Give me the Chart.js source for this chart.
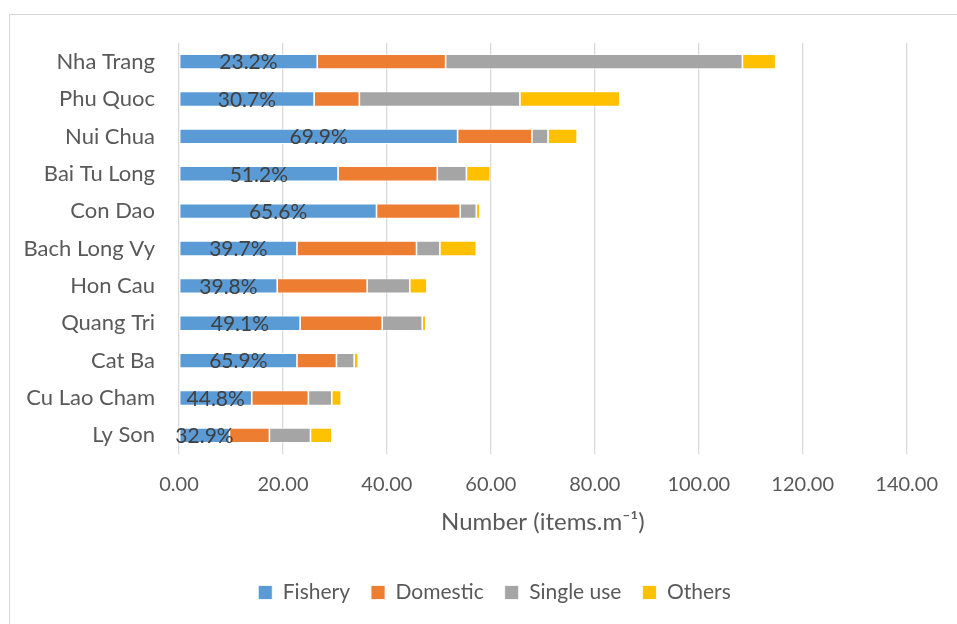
<!DOCTYPE html>
<html>
<head>
<meta charset="utf-8">
<script src="https://cdn.jsdelivr.net/npm/chart.js@4.4.0/dist/chart.umd.min.js"></script>
<style>
  body { margin: 0; background: #fff; }
  #frame { position: absolute; left: 9px; top: 14px; width: 960px; height: 620px;
           border-left: 1px solid #d9d9d9; border-top: 1px solid #d9d9d9; }
  #wrap { position: absolute; left: 0; top: 0; width: 957px; height: 624px; }
</style>
</head>
<body>
<div id="frame"></div>
<div id="wrap"><canvas id="myChart"></canvas></div>
<script>
var sites = ['Nha Trang', 'Phu Quoc', 'Nui Chua', 'Bai Tu Long', 'Con Dao', 'Bach Long Vy',
             'Hon Cau', 'Quang Tri', 'Cat Ba', 'Cu Lao Cham', 'Ly Son']
var fishery   = [26.6, 26.0, 53.6, 30.6, 38.0, 22.7, 18.9, 23.3, 22.7, 14.0, 9.7]
var domestic  = [24.7,  8.7, 14.3, 19.1, 16.1, 23.0, 17.3, 15.8,  7.6, 10.9, 7.7]
var singleUse = [57.1, 30.9,  3.1,  5.6,  3.1,  4.5,  8.2,  7.7,  3.4,  4.5, 7.9]
var others    = [ 6.4, 19.2,  5.6,  4.6,  0.7,  7.0,  3.3,  0.7,  0.8,  1.8, 4.1]
var fisheryPct = ['23.2%', '30.7%', '69.9%', '51.2%', '65.6%', '39.7%', '39.8%', '49.1%', '65.9%', '44.8%', '32.9%']
var xTicks = [0, 20, 40, 60, 80, 100, 120, 140]

const FONT = 'Lato, "Open Sans", sans-serif'
const GREY = '#595959'

// percentage labels in the middle of the Fishery segment
const pctLabels = {
    id: 'pctLabels',
    afterLayout(chart) {
        // centre the legend under the plot, not the whole canvas
        chart.legend.left += 82
    },
    afterDatasetsDraw(chart) {
        let ctx = chart.ctx
        let meta = chart.getDatasetMeta(0)
        ctx.save()
        ctx.font = '21px ' + FONT
        ctx.fillStyle = '#404040'
        ctx.textAlign = 'center'
        ctx.textBaseline = 'middle'
        meta.data.forEach((bar, i) => {
            ctx.fillText(fisheryPct[i], (bar.x + bar.base) / 2, bar.y + 1)
        })
        ctx.restore()
    }
}

let ctx = document.getElementById('myChart').getContext('2d');
let myChart = new Chart(ctx, {
    type: 'bar',
    data: {
        labels: sites,
        datasets: [
            { label: 'Fishery',    backgroundColor: '#5B9BD5', data: fishery },
            { label: 'Domestic',   backgroundColor: '#ED7D31', data: domestic },
            { label: 'Single use', backgroundColor: '#A5A5A5', data: singleUse },
            { label: 'Others',     backgroundColor: '#FFC000', data: others }
        ]
    },
    options: {
        indexAxis: 'y',
        responsive: true,
        maintainAspectRatio: false,
        animation: false,
        datasets: {
            bar: { categoryPercentage: 1, barPercentage: 0.4, borderColor: '#ffffff', borderWidth: 0.8, borderSkipped: false }
        },
        layout: { padding: { top: 43, right: 50, left: 0, bottom: 11 } },
        scales: {
            x: {
                stacked: true,
                min: 0,
                max: 140,
                afterBuildTicks: (s) => { s.ticks = xTicks.map(v => ({ value: v })) },
                afterFit: (s) => { s.height = 107 },
                grid: { color: '#d9d9d9', lineWidth: 1.3, drawTicks: false },
                border: { display: false },
                ticks: {
                    padding: 19,
                    color: GREY,
                    font: { family: FONT, size: 20 },
                    callback: (v) => Number(v).toFixed(2)
                },
                title: {
                    display: true,
                    text: 'Number (items.m\u207B\u00B9)',
                    color: GREY,
                    font: { family: FONT, size: 24 },
                    padding: { top: 0, bottom: 24 }
                }
            },
            y: {
                stacked: true,
                afterFit: (s) => { s.width = 179 },
                grid: { display: false, drawTicks: false },
                border: { display: false },
                ticks: {
                    padding: 24,
                    color: GREY,
                    font: { family: FONT, size: 22 }
                }
            }
        },
        plugins: {
            legend: {
                position: 'bottom',
                labels: {
                    boxWidth: 14,
                    boxHeight: 14,
                    padding: 21,
                    color: GREY,
                    font: { family: FONT, size: 21 }
                }
            },
            tooltip: { enabled: false }
        }
    },
    plugins: [pctLabels]
});
</script>
</body>
</html>
